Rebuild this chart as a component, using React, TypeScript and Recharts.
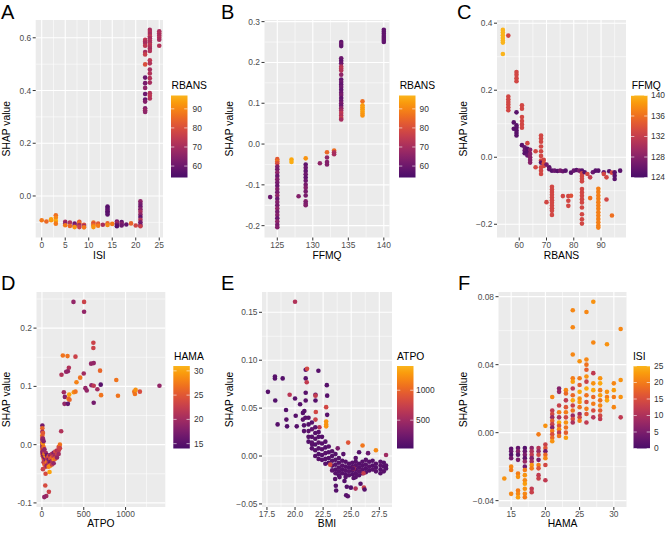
import React from 'react';
import { ScatterChart, Scatter, XAxis, YAxis, CartesianGrid } from 'recharts';

type Pt = [number, number, number];

// ---------- DATA (x value, SHAP value, colour variable) ----------
// Panel A: ISI vs SHAP, colour = RBANS
const isiPoints: Pt[] = [
  [0,-0.092,88],[1,-0.097,85],[2,-0.092,92],[2,-0.088,94],
  [3,-0.073,86],[3,-0.083,90],[3,-0.095,95],[3,-0.105,88],
  [5,-0.098,70],[5,-0.104,66],[5,-0.111,88],
  [6,-0.101,72],[6,-0.114,85],
  [7,-0.105,60],[7,-0.113,66],[7,-0.118,92],
  [8,-0.098,82],[8,-0.104,86],[8,-0.11,70],[8,-0.118,76],
  [9,-0.109,80],[9,-0.114,70],[9,-0.119,88],
  [11,-0.101,86],[11,-0.106,80],[11,-0.112,88],[11,-0.118,92],
  [12,-0.105,82],[12,-0.113,88],
  [13,-0.109,70],
  [14,-0.104,84],[14,-0.11,90],
  [14,-0.04,57],[14,-0.046,56],[14,-0.052,57],[14,-0.058,58],[14,-0.064,56],[14,-0.07,57],
  [15,-0.106,88],
  [16,-0.097,62],[16,-0.103,68],[16,-0.109,60],[16,-0.115,56],
  [17,-0.099,58],[17,-0.106,64],[17,-0.112,60],
  [18,-0.108,58],[19,-0.104,84],[20,-0.112,78],
  [21,-0.02,66],[21,-0.03,62],[21,-0.04,60],[21,-0.05,64],[21,-0.06,70],[21,-0.07,66],[21,-0.08,58],[21,-0.09,72],[21,-0.1,62],[21,-0.11,60],[21,-0.115,76],
  [22,0.592,74],[22,0.586,72],[22,0.58,70],[22,0.57,74],[22,0.546,70],[22,0.537,76],[22,0.499,80],[22,0.449,60],[22,0.428,62],[22,0.41,66],[22,0.387,60],[22,0.366,58],[22,0.358,64],[22,0.333,64],[22,0.325,68],[22,0.319,66],
  [23,0.63,70],[23,0.622,72],[23,0.614,70],[23,0.606,74],[23,0.598,70],[23,0.59,72],[23,0.582,70],[23,0.574,74],[23,0.566,72],[23,0.558,70],[23,0.55,72],[23,0.515,74],[23,0.503,72],[23,0.48,70],[23,0.465,72],[23,0.447,72],[23,0.43,70],[23,0.39,72],[23,0.38,74],[23,0.37,72],
  [25,0.625,70],[25,0.617,72],[25,0.609,70],[25,0.601,72],[25,0.593,70],[25,0.57,72],
];

// Panel B: FFMQ vs SHAP, colour = RBANS
const ffmqPoints: Pt[] = [
  [124,-0.13,60],
  [125,-0.037,82],[125,-0.042,86],[125,-0.047,80],[125,-0.055,64],[125,-0.062,62],[125,-0.07,66],[125,-0.078,60],[125,-0.086,64],[125,-0.094,62],[125,-0.102,60],[125,-0.11,64],[125,-0.118,62],[125,-0.126,66],[125,-0.134,60],[125,-0.142,64],[125,-0.15,62],[125,-0.158,66],[125,-0.166,62],[125,-0.174,64],[125,-0.182,60],[125,-0.19,66],[125,-0.198,62],[125,-0.204,64],
  [127,-0.038,95],[127,-0.044,96],
  [128,-0.128,64],
  [129,-0.035,92],[129,-0.05,58],[129,-0.058,60],[129,-0.066,58],[129,-0.074,60],[129,-0.082,58],[129,-0.09,60],[129,-0.1,62],[129,-0.107,64],[129,-0.116,62],[129,-0.126,62],[129,-0.14,64],[129,-0.146,62],[129,-0.15,64],
  [131,-0.047,66],
  [132,-0.02,85],[132,-0.033,66],[132,-0.044,64],[132,-0.05,64],
  [133,-0.016,86],[133,-0.02,72],[133,-0.025,70],
  [134,0.25,58],[134,0.245,60],[134,0.24,58],[134,0.21,60],[134,0.204,58],[134,0.198,60],[134,0.19,72],[134,0.185,74],[134,0.18,72],[134,0.17,66],[134,0.158,58],[134,0.152,60],[134,0.146,58],[134,0.14,60],[134,0.133,58],[134,0.126,60],[134,0.12,62],[134,0.113,58],[134,0.106,60],[134,0.1,62],[134,0.094,60],[134,0.088,66],[134,0.082,70],[134,0.076,74],[134,0.07,72],[134,0.064,76],[134,0.06,70],
  [137,0.105,86],[137,0.095,93],[137,0.09,94],[137,0.085,93],[137,0.08,94],[137,0.075,93],[137,0.07,92],
  [140,0.28,58],[140,0.275,58],[140,0.27,58],[140,0.265,58],[140,0.26,58],[140,0.255,58],[140,0.25,58],
];

// Panel C: RBANS vs SHAP, colour = FFMQ
const rbansPoints: Pt[] = [
  [54,0.38,140],[54,0.372,140],[54,0.364,140],[54,0.356,140],[54,0.348,140],[54,0.342,140],[54,0.308,140],
  [56,0.363,133],
  [56,0.181,133],[56,0.173,133],[56,0.165,133],[56,0.157,133],[56,0.149,133],[56,0.14,133],
  [58,0.104,125],[58,0.085,125],
  [59,0.254,133],[59,0.246,133],[59,0.236,133],[59,0.227,133],
  [59,0.134,125],[59,0.095,125],[59,0.088,125],[59,0.08,125],[59,0.072,125],[59,0.065,125],
  [61,0.155,133],[61,0.145,133],[61,0.12,133],[61,0.108,133],[61,0.098,133],[61,0.088,133],
  [61,0.036,125],
  [62,0.03,126],[62,0.02,126],[62,0.012,125],
  [63,0.042,133],[63,0.025,125],[63,0.015,125],[63,0.005,126],
  [64,0.022,128],[64,0.01,128],[64,0.0,128],[64,-0.008,128],[64,-0.016,128],
  [66,0.018,133],[66,-0.03,133],
  [68,0.065,133],[68,0.056,133],[68,0.046,133],[68,0.032,133],[68,0.018,133],[68,0.004,133],[68,-0.01,133],[68,-0.03,133],[68,-0.04,133],[68,-0.05,133],[68,-0.016,125],
  [69,-0.008,133],[69,-0.018,134],[69,-0.026,133],
  [70,-0.022,127],[70,-0.134,133],
  [71,-0.03,125],[71,-0.036,126],
  [72,-0.04,125],[72,-0.088,133],[72,-0.096,133],[72,-0.104,133],[72,-0.112,133],[72,-0.12,133],[72,-0.128,133],[72,-0.136,133],[72,-0.144,133],[72,-0.152,133],[72,-0.16,133],[72,-0.172,133],
  [73,-0.04,126],[74,-0.041,125],[75,-0.04,127],[76,-0.042,126],[77,-0.04,125],
  [76,-0.116,133],[78,-0.116,133],[78,-0.13,133],[78,-0.145,133],[79,-0.115,134],
  [79,-0.046,125],[80,-0.04,126],[81,-0.038,125],[82,-0.04,127],
  [83,-0.04,125],[83,-0.048,133],[83,-0.056,133],[83,-0.064,133],[83,-0.072,133],
  [83,-0.095,133],[83,-0.105,133],[83,-0.115,133],[83,-0.125,133],[83,-0.135,133],[83,-0.15,133],[83,-0.17,133],[83,-0.185,133],[83,-0.198,133],
  [84,-0.045,125],[85,-0.05,133],[86,-0.06,132],[86,-0.122,136],
  [87,-0.045,126],[88,-0.04,125],
  [89,-0.04,125],[89,-0.094,137],[89,-0.104,137],[89,-0.114,137],[89,-0.124,137],[89,-0.134,137],[89,-0.144,137],[89,-0.154,137],[89,-0.164,137],[89,-0.174,137],[89,-0.184,137],[89,-0.194,137],[89,-0.204,137],[89,-0.21,137],
  [91,-0.045,126],[91,-0.05,133],[92,-0.06,133],[92,-0.126,133],[93,-0.042,125],
  [94,-0.174,136],[94,-0.046,133],
  [95,-0.045,125],[95,-0.055,125],[95,-0.065,125],
  [97,-0.04,125],
];

// Panel D: ATPO vs SHAP, colour = HAMA
const atpoPoints: Pt[] = [
  [377,0.245,19],[504,0.245,23],[504,0.228,19],[615,0.175,23],[615,0.166,23],[250,0.153,27],[306,0.152,27],[401,0.151,23],[588,0.139,19],[619,0.14,19],[322,0.132,21],[310,0.126,19],[290,0.125,19],[234,0.12,21],[457,0.115,27],[413,0.107,28],[500,0.122,20],[695,0.127,26],[889,0.111,27],[703,0.103,15],[592,0.102,19],[619,0.101,22],[262,0.09,20],[520,0.097,19],[536,0.093,19],[663,0.095,20],[326,0.086,30],[381,0.09,29],[401,0.091,27],[274,0.082,18],[318,0.079,27],[330,0.077,26],[707,0.085,27],[909,0.084,27],[1104,0.091,27],[1112,0.087,27],[1120,0.094,29],[1171,0.091,24],[1405,0.101,19],[270,0.07,19],[310,0.07,16],[619,0.072,17],[230,0.023,21],
  [5,0.033,17],[5,0.028,26],[5,0.022,20],[5,0.016,28],[5,0.012,23],[5,0.008,18],[5,0.004,26],[5,0.0,20],[5,-0.004,17],[5,-0.008,28],[5,-0.012,19],[5,-0.016,24],
  [12,0.02,25],[12,0.01,19],[12,0.002,29],[12,-0.006,21],[12,-0.014,17],[12,-0.02,23],
  [20,0.006,18],[20,-0.004,27],[20,-0.012,20],[20,-0.018,16],[20,-0.024,25],[20,-0.03,21],
  [30,-0.008,19],[30,-0.016,28],[30,-0.022,17],[30,-0.028,23],[30,-0.034,26],
  [45,-0.014,20],[45,-0.02,29],[45,-0.026,18],[45,-0.032,24],[45,-0.038,22],
  [60,-0.018,16],[60,-0.024,22],[60,-0.03,27],[60,-0.036,19],
  [80,-0.02,25],[80,-0.026,18],[80,-0.032,21],[80,-0.038,28],
  [100,-0.018,19],[100,-0.024,24],[100,-0.03,17],[100,-0.036,29],
  [120,-0.016,21],[120,-0.022,26],[120,-0.028,20],[120,-0.034,23],
  [140,-0.014,18],[140,-0.02,22],[140,-0.026,28],[140,-0.032,19],
  [160,-0.012,24],[160,-0.018,20],[160,-0.024,26],
  [180,-0.01,21],[180,-0.016,23],[180,-0.022,19],
  [200,-0.004,24],[200,-0.01,22],[200,-0.016,20],
  [215,0.0,27],[215,-0.006,23],
  [12,-0.042,23],[44,-0.05,24],[91,-0.047,30],[40,-0.07,24],[83,-0.081,23],[52,-0.088,20],[28,-0.09,19],
];

// Panel E: BMI vs SHAP, colour = ATPO
const bmiPoints: Pt[] = [
  [20.0,0.161,600],
  [17.59,0.067,100],[18.21,0.083,120],[18.21,0.081,100],[18.9,0.081,90],[18.24,0.058,80],[18.45,0.033,100],[19.2,0.048,90],[19.23,0.038,110],[19.29,0.031,80],[19.52,0.064,650],[20.0,0.06,120],[20.06,0.042,100],[20.15,0.031,90],[20.45,0.054,100],
  [20.95,0.09,150],[21.07,0.091,800],[20.95,0.081,120],[21.04,0.077,700],[20.95,0.066,100],[20.95,0.058,130],[20.83,0.047,110],[20.92,0.04,100],
  [22.08,0.089,100],[21.82,0.064,150],[21.82,0.063,700],[21.82,0.058,90],[21.85,0.046,800],[21.82,0.038,750],[22.17,0.03,650],
  [22.83,0.074,100],[22.86,0.063,100],[22.77,0.051,800],[22.86,0.043,120],[22.77,0.036,1250],[22.77,0.033,1250],[22.77,0.031,1250],
  [21.52,0.012,100],
  [20.7,0.045,90],[20.7,0.038,120],[20.8,0.032,80],[20.8,0.026,100],
  [21.2,0.04,110],[21.2,0.033,90],[21.2,0.026,130],[21.2,0.02,100],[21.2,0.015,80],
  [21.5,0.035,100],[21.5,0.028,150],[21.5,0.02,90],[21.5,0.014,110],[21.5,0.008,100],
  [21.8,0.03,120],[21.8,0.024,90],[21.8,0.018,100],[21.8,0.012,80],[21.8,0.006,110],[21.8,0.0,100],
  [22.1,0.025,100],[22.1,0.02,90],[22.1,0.014,130],[22.1,0.008,100],[22.1,0.002,80],[22.1,-0.003,110],
  [22.4,0.02,90],[22.4,0.013,100],[22.4,0.007,120],[22.4,0.001,90],[22.4,-0.004,100],
  [22.7,0.015,100],[22.7,0.009,80],[22.7,0.003,110],[22.7,-0.003,90],[22.7,-0.008,100],
  [23.0,0.01,120],[23.0,0.004,90],[23.0,-0.002,100],[23.0,-0.007,80],
  [23.3,0.005,100],[23.3,0.0,90],[23.3,-0.005,110],[23.3,-0.01,100],[23.3,-0.015,130],
  [23.6,0.002,90],[23.6,-0.004,100],[23.6,-0.009,120],[23.6,-0.014,90],[23.6,-0.018,100],
  [23.9,-0.002,100],[23.9,-0.007,90],[23.9,-0.012,110],[23.9,-0.016,100],[23.9,-0.02,80],
  [24.2,-0.005,100],[24.2,-0.01,120],[24.2,-0.014,90],[24.2,-0.018,100],
  [24.5,-0.006,90],[24.5,-0.011,100],[24.5,-0.015,110],[24.5,-0.019,90],[24.5,-0.022,100],
  [24.8,-0.008,100],[24.8,-0.012,90],[24.8,-0.016,120],[24.8,-0.02,100],
  [25.1,-0.007,110],[25.1,-0.011,90],[25.1,-0.015,100],[25.1,-0.019,80],
  [25.4,-0.006,100],[25.4,-0.01,120],[25.4,-0.014,90],[25.4,-0.018,100],[25.4,-0.022,110],
  [25.7,-0.008,90],[25.7,-0.012,100],[25.7,-0.016,130],[25.7,-0.02,100],
  [26.0,-0.006,100],[26.0,-0.01,90],[26.0,-0.014,110],[26.0,-0.018,100],
  [26.3,-0.004,120],[26.3,-0.009,100],[26.3,-0.013,90],[26.3,-0.017,100],
  [26.6,-0.006,100],[26.6,-0.011,110],[26.6,-0.015,90],
  [26.9,-0.005,100],[26.9,-0.01,90],[26.9,-0.014,120],
  [27.2,-0.008,100],[27.2,-0.012,90],[27.2,-0.016,110],
  [27.6,-0.006,100],[27.6,-0.01,120],[27.6,-0.014,90],[27.6,-0.018,100],
  [27.9,-0.007,90],[27.9,-0.011,100],[27.9,-0.016,110],
  [28.1,-0.01,100],[28.1,-0.013,90],
  [24.73,0.014,900],[26.01,0.011,1100],[27.2,0.006,1200],[28.1,0.001,500],[23.13,-0.009,850],[25.7,0.004,100],[25.4,-0.002,120],[25.2,-0.013,800],[26.1,-0.018,700],[23.8,0.008,300],[24.3,0.002,100],[26.5,0.003,200],
  [23.57,-0.024,100],[23.63,-0.031,100],[23.66,-0.036,90],[24.55,-0.041,100],[24.7,-0.042,110],[24.61,-0.032,90],[24.97,-0.033,100],[25.39,-0.034,600],[25.83,-0.029,100],[26.13,-0.033,750],[26.19,-0.035,100],[25.15,-0.013,100],[25.21,-0.023,100],[23.96,-0.022,100],[24.4,-0.026,90],
];

// Panel F: HAMA vs SHAP, colour = ISI
const hamaPoints: Pt[] = [
  [14,-0.027,22],
  [15,-0.0095,2],[15,-0.011,3],[15,-0.013,1],[15,-0.015,4],[15,-0.02,21],[15,-0.022,20],[15,-0.036,21],
  [16,-0.009,3],[16,-0.011,6],[16,-0.013,2],[16,-0.016,5],[16,-0.024,20],[16,-0.026,22],[16,-0.034,20],[16,-0.036,21],[16,-0.038,23],
  [17,-0.009,1],[17,-0.011,3],[17,-0.013,5],[17,-0.015,2],[17,-0.017,8],[17,-0.02,4],[17,-0.022,20],[17,-0.025,22],[17,-0.028,21],[17,-0.03,23],[17,-0.033,22],[17,-0.036,21],[17,-0.038,20],
  [18,-0.009,7],[18,-0.011,10],[18,-0.013,12],[18,-0.015,6],[18,-0.017,9],[18,-0.019,22],[18,-0.021,20],[18,-0.033,12],[18,-0.035,13],
  [19,-0.001,20],[19,-0.009,11],[19,-0.011,8],[19,-0.013,14],[19,-0.016,5],[19,-0.019,20],[19,-0.021,16],[19,-0.025,12],[19,-0.027,13],
  [20,0.004,22],[20,-0.007,13],[20,-0.009,16],[20,-0.011,4],[20,-0.013,18],[20,-0.015,21],[20,-0.019,14],[20,-0.028,12],
  [21,0.021,21],[21,0.013,12],[21,0.011,14],[21,0.009,8],[21,0.007,17],[21,0.005,13],[21,0.003,6],[21,0.001,20],[21,-0.001,15],[21,-0.003,18],[21,-0.005,22],
  [22,0.026,6],[22,0.024,8],[22,0.016,13],[22,0.012,20],[22,0.009,10],[22,0.006,24],[22,0.004,16],[22,0.002,21],[22,0.0,12],[22,-0.002,19],
  [23,0.025,21],[23,0.023,18],[23,0.019,12],[23,0.015,16],[23,0.012,20],[23,0.009,14],[23,0.006,22],[23,0.003,19],[23,0.0,17],[23,-0.003,23],
  [24,0.072,21],[24,0.062,21],[24,0.046,21],[24,0.032,20],[24,0.03,23],[24,0.026,12],[24,0.022,18],[24,0.019,24],[24,0.016,13],[24,0.013,19],[24,0.01,8],[24,0.008,15],[24,0.006,10],
  [25,0.042,22],[25,0.032,20],[25,0.028,17],[25,0.024,24],[25,0.02,22],[25,0.018,23],[25,0.015,19],[25,0.011,9],[25,0.009,14],[25,0.007,20],
  [26,0.071,21],[26,0.043,21],[26,0.04,19],[26,0.037,17],[26,0.033,22],[26,0.03,13],[26,0.026,24],[26,0.022,19],[26,0.018,15],[26,0.014,20],[26,0.011,16],[26,0.006,12],
  [27,0.077,22],[27,0.053,21],[27,0.035,12],[27,0.029,22],[27,0.025,24],[27,0.021,18],[27,0.017,20],[27,0.013,15],[27,0.009,11],
  [28,0.032,22],[28,0.029,24],[28,0.025,20],[28,0.022,23],[28,0.019,19],[28,0.016,21],[28,0.013,17],[28,0.01,14],[28,0.008,12],
  [29,0.052,22],[29,0.024,22],[29,0.021,20],[29,0.019,24],
  [30,0.029,21],[30,0.025,23],[30,0.021,20],[30,0.015,21],
  [31,0.061,21],[31,0.031,22],[31,0.021,22],[31,0.009,12],
];

// Tick values
const isiTicks = [0, 5, 10, 15, 20, 25];
const shapTicksA = [0, 0.2, 0.4, 0.6];
const ffmqTicks = [125, 130, 135, 140];
const shapTicksB = [-0.2, -0.1, 0, 0.1, 0.2, 0.3];
const rbansTicks = [60, 70, 80, 90];
const shapTicksC = [-0.2, 0, 0.2, 0.4];
const atpoTicks = [0, 500, 1000];
const shapTicksD = [-0.1, 0, 0.1, 0.2];
const bmiTicks = [17.5, 20, 22.5, 25, 27.5];
const shapTicksE = [-0.05, 0, 0.05, 0.1, 0.15];
const hamaTicks = [15, 20, 25, 30];
const shapTicksF = [-0.04, 0, 0.04, 0.08];

// Colour-bar breaks
const rbansBreaks = [60, 70, 80, 90];
const ffmqBreaks = [124, 128, 132, 136, 140];
const hamaBreaks = [15, 20, 25, 30];
const atpoBreaks = [500, 1000];
const isiBreaks = [0, 5, 10, 15, 20, 25];

// ---------- colour scale ----------
const INFERNO = ['#000004','#160B39','#420A68','#6A176E','#932667','#BC3754','#DD513A','#F37819','#FCA50A','#F6D746','#FCFFA4'];
const BEGIN = 0.22;
const END = 0.83;
function hexToRgb(h: string) { return [parseInt(h.slice(1,3),16), parseInt(h.slice(3,5),16), parseInt(h.slice(5,7),16)]; }
function inferno(t: number) {
  const s = Math.max(0, Math.min(1, t)) * 10;
  const i = Math.min(9, Math.floor(s));
  const f = s - i;
  const a = hexToRgb(INFERNO[i]);
  const b = hexToRgb(INFERNO[i + 1]);
  const c = a.map((v, k) => Math.round(v + (b[k] - v) * f));
  return `rgb(${c[0]},${c[1]},${c[2]})`;
}
function scaleColor(v: number, lo: number, hi: number) {
  const t = Math.max(0, Math.min(1, (v - lo) / (hi - lo)));
  return inferno(BEGIN + t * (END - BEGIN));
}

const FONT = "'Liberation Sans', Arial, Helvetica, sans-serif";
const hy = (d: number) => (v: number) => v.toFixed(d);
const mn = (d: number) => (v: number) => (v < 0 ? '\u2212' + Math.abs(v).toFixed(d) : v.toFixed(d));
const mids = (t: number[]) => t.slice(1).map((v, i) => (v + t[i]) / 2);

type PanelProps = {
  box: { x: number; y: number; w: number; h: number };
  plot: { l: number; t: number; r: number; b: number };
  pts: Pt[];
  xDomain: [number, number];
  yDomain: [number, number];
  xTicks: number[];
  yTicks: number[];
  xMinor: number[];
  yMinor: number[];
  xFmt: (v: number) => string;
  yFmt: (v: number) => string;
  xTitle: string;
  cRange: [number, number];
  titleOffset: number;
  xTickMargin: number;
};

function Panel(p: PanelProps) {
  const { box, plot } = p;
  const data = p.pts.map(([x, y, c]) => ({ x, y, c }));
  const tickStyle = { fill: '#4D4D4D', fontSize: 8.4, fontFamily: FONT };
  return (
    <div style={{ position: 'absolute', left: box.x, top: box.y, width: box.w, height: box.h }}>
      <ScatterChart
        width={box.w}
        height={box.h}
        margin={{ top: plot.t - box.y, right: box.x + box.w - plot.r, left: 0, bottom: 0 }}
      >
        <CartesianGrid fill="#EBEBEB" stroke="#FFFFFF" strokeWidth={0.55} horizontalValues={p.yMinor} verticalValues={p.xMinor} />
        <CartesianGrid stroke="#FFFFFF" strokeWidth={1.1} horizontalValues={p.yTicks} verticalValues={p.xTicks} />
        <XAxis
          type="number" dataKey="x" domain={p.xDomain} ticks={p.xTicks} interval={0} allowDataOverflow
          axisLine={false} tickLine={{ stroke: '#333333', strokeWidth: 1 }} tickSize={3} tickMargin={p.xTickMargin}
          height={box.y + box.h - plot.b} tick={tickStyle} tickFormatter={p.xFmt}
          label={{ value: p.xTitle, position: 'insideBottom', offset: p.titleOffset, fill: '#000', fontSize: 10.3, fontFamily: FONT }}
        />
        <YAxis
          type="number" dataKey="y" domain={p.yDomain} ticks={p.yTicks} interval={0} allowDataOverflow
          axisLine={false} tickLine={{ stroke: '#333333', strokeWidth: 1 }} tickSize={3} tickMargin={1.5}
          width={plot.l - box.x} tick={tickStyle} tickFormatter={p.yFmt}
        />
        <Scatter
          data={data}
          isAnimationActive={false}
          shape={(s: any) => (
            <circle cx={s.cx} cy={s.cy} r={2.3} fill={scaleColor(s.payload.c, p.cRange[0], p.cRange[1])} />
          )}
        />
      </ScatterChart>
    </div>
  );
}

type BarProps = {
  id: string; title: string; tx: number; ty: number; bx: number; by: number; bw: number; bh: number;
  lo: number; hi: number; breaks: number[]; lx: number;
};
function ColorBar(b: BarProps) {
  const stops = Array.from({ length: 13 }, (_, i) => i / 12);
  const yOf = (v: number) => b.by + b.bh - ((v - b.lo) / (b.hi - b.lo)) * b.bh;
  return (
    <g>
      <defs>
        <linearGradient id={b.id} x1="0" y1="1" x2="0" y2="0">
          {stops.map((t) => (
            <stop key={t} offset={t} stopColor={inferno(BEGIN + t * (END - BEGIN))} />
          ))}
        </linearGradient>
      </defs>
      <text x={b.tx} y={b.ty} fontSize={10.3} fontFamily={FONT} fill="#000">{b.title}</text>
      <rect x={b.bx} y={b.by} width={b.bw} height={b.bh} fill={`url(#${b.id})`} />
      {b.breaks.map((v) => (
        <g key={v}>
          <line x1={b.bx} x2={b.bx + b.bw / 5} y1={yOf(v)} y2={yOf(v)} stroke="#FFFFFF" strokeOpacity={0.75} strokeWidth={0.8} />
          <line x1={b.bx + (b.bw * 4) / 5} x2={b.bx + b.bw} y1={yOf(v)} y2={yOf(v)} stroke="#FFFFFF" strokeOpacity={0.75} strokeWidth={0.8} />
          <text x={b.lx} y={yOf(v)} dy="0.35em" fontSize={8.4} fontFamily={FONT} fill="#333333">{v}</text>
        </g>
      ))}
    </g>
  );
}

export default function App() {
  const row1 = { y: 0, h: 266 };
  const row2 = { y: 266, h: 267 };
  const t1 = 20, b1 = 237.5, t2 = 292, b2 = 507;
  return (
    <div style={{ position: 'absolute', left: 0, top: 0, width: 669, height: 533, background: '#FFFFFF', overflow: 'hidden', fontFamily: FONT }}>
      <Panel box={{ x: 0, ...row1, w: 168 }} plot={{ l: 35.7, t: t1, r: 163, b: b1 }} pts={isiPoints}
        xDomain={[-1.28, 25.8]} yDomain={[-0.1575, 0.6675]} xTicks={isiTicks} yTicks={shapTicksA}
        xMinor={mids(isiTicks)} yMinor={[-0.1, 0.1, 0.3, 0.5]} xFmt={(v) => String(v)} yFmt={hy(1)}
        xTitle="ISI" cRange={[54, 97]} titleOffset={6.7} xTickMargin={2} />
      <Panel box={{ x: 222, ...row1, w: 172 }} plot={{ l: 264.5, t: t1, r: 389.5, b: b1 }} pts={ffmqPoints}
        xDomain={[123.2, 140.8]} yDomain={[-0.229, 0.304]} xTicks={ffmqTicks} yTicks={shapTicksB}
        xMinor={mids(ffmqTicks)} yMinor={[-0.15, ...mids(shapTicksB)]} xFmt={(v) => String(v)} yFmt={hy(1)}
        xTitle="FFMQ" cRange={[54, 97]} titleOffset={6.7} xTickMargin={2} />
      <Panel box={{ x: 446, ...row1, w: 183 }} plot={{ l: 497, t: t1, r: 626, b: b1 }} pts={rbansPoints}
        xDomain={[51.85, 99.15]} yDomain={[-0.2395, 0.4095]} xTicks={rbansTicks} yTicks={shapTicksC}
        xMinor={[55, 65, 75, 85, 95]} yMinor={mids(shapTicksC)} xFmt={(v) => String(v)} yFmt={mn(1)}
        xTitle="RBANS" cRange={[124, 140]} titleOffset={6.7} xTickMargin={2} />
      <Panel box={{ x: 0, ...row2, w: 170 }} plot={{ l: 36.5, t: t2, r: 165.3, b: b2 }} pts={atpoPoints}
        xDomain={[-65, 1475]} yDomain={[-0.107, 0.262]} xTicks={atpoTicks} yTicks={shapTicksD}
        xMinor={[250, 750, 1250]} yMinor={[-0.05, 0.05, 0.15, 0.25]} xFmt={(v) => String(v)} yFmt={hy(1)}
        xTitle="ATPO" cRange={[14, 31]} titleOffset={5.8} xTickMargin={1} />
      <Panel box={{ x: 222, ...row2, w: 173 }} plot={{ l: 262, t: t2, r: 392, b: b2 }} pts={bmiPoints}
        xDomain={[17.06, 28.63]} yDomain={[-0.0532, 0.1712]} xTicks={bmiTicks} yTicks={shapTicksE}
        xMinor={mids(bmiTicks)} yMinor={mids(shapTicksE)} xFmt={hy(1)} yFmt={mn(2)}
        xTitle="BMI" cRange={[27, 1405]} titleOffset={5.8} xTickMargin={1} />
      <Panel box={{ x: 446, ...row2, w: 184 }} plot={{ l: 498.5, t: t2, r: 626.5, b: b2 }} pts={hamaPoints}
        xDomain={[13.15, 31.85]} yDomain={[-0.04375, 0.08275]} xTicks={hamaTicks} yTicks={shapTicksF}
        xMinor={[17.5, 22.5, 27.5]} yMinor={mids(shapTicksF)} xFmt={(v) => String(v)} yFmt={mn(2)}
        xTitle="HAMA" cRange={[0, 25]} titleOffset={5.8} xTickMargin={1} />

      <svg width={669} height={533} style={{ position: 'absolute', left: 0, top: 0, pointerEvents: 'none' }}>
        <g fontFamily={FONT} fill="#000">
          <text x={1} y={18.5} fontSize={20}>A</text>
          <text x={221} y={18.5} fontSize={20}>B</text>
          <text x={457} y={18.5} fontSize={20}>C</text>
          <text x={1} y={290} fontSize={20}>D</text>
          <text x={221} y={290} fontSize={20}>E</text>
          <text x={458} y={290} fontSize={20}>F</text>
          {[
            [10, 128.75], [233, 128.75], [466.7, 128.75],
            [10, 399.5], [233, 399.5], [466.7, 399.5],
          ].map(([x, y], i) => (
            <text key={i} x={x} y={y} fontSize={10.3} textAnchor="middle" transform={`rotate(-90 ${x} ${y})`}>SHAP value</text>
          ))}
        </g>
        <ColorBar id="cbA" title="RBANS" tx={171.5} ty={89} bx={171} by={95.5} bw={16.5} bh={82} lo={54} hi={97} breaks={rbansBreaks} lx={192.5} />
        <ColorBar id="cbB" title="RBANS" tx={399.7} ty={89} bx={399} by={95.5} bw={16.5} bh={82} lo={54} hi={97} breaks={rbansBreaks} lx={419.5} />
        <ColorBar id="cbC" title="FFMQ" tx={631.7} ty={88.5} bx={631} by={95.5} bw={16.5} bh={82} lo={124} hi={140} breaks={ffmqBreaks} lx={651} />
        <ColorBar id="cbD" title="HAMA" tx={174} ty={359.5} bx={173.3} by={366} bw={16.5} bh={82.5} lo={14} hi={31} breaks={hamaBreaks} lx={194} />
        <ColorBar id="cbE" title="ATPO" tx={397} ty={360} bx={397} by={366} bw={16.5} bh={82.5} lo={27} hi={1405} breaks={atpoBreaks} lx={416} />
        <ColorBar id="cbF" title="ISI" tx={633} ty={359.5} bx={633.5} by={366} bw={16.5} bh={82.5} lo={0} hi={25} breaks={isiBreaks} lx={654} />
      </svg>
    </div>
  );
}
